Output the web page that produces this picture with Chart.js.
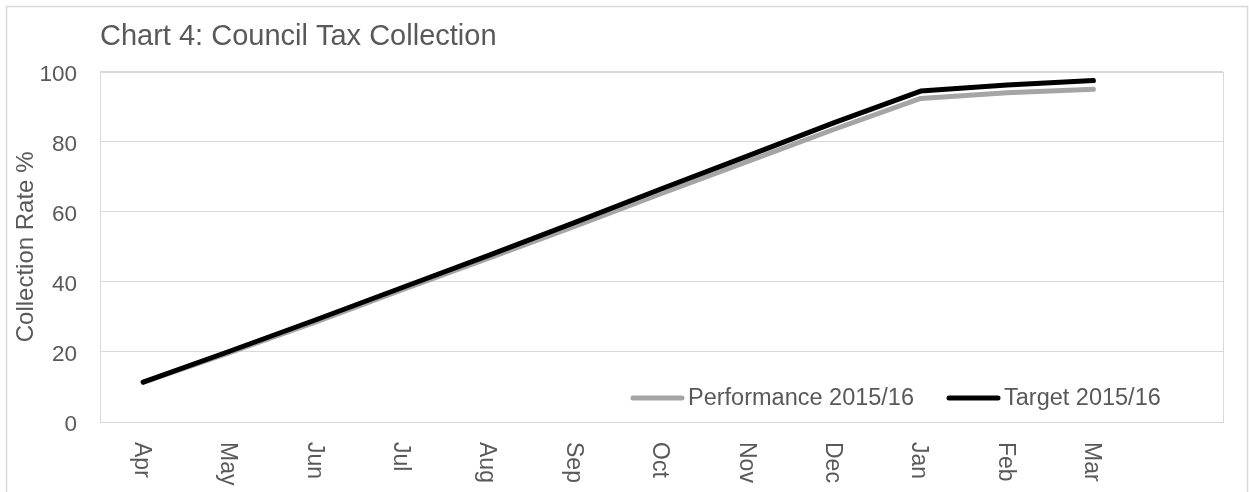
<!DOCTYPE html>
<html>
<head>
<meta charset="utf-8">
<script src="https://cdn.jsdelivr.net/npm/chart.js@4.4.1/dist/chart.umd.min.js"></script>
<style>
  html, body { margin: 0; padding: 0; background: #ffffff; }
  #wrap { position: relative; width: 1249px; height: 492px; }
</style>
</head>
<body>
<div id="wrap"><canvas id="taxChart" width="1249" height="492"></canvas></div>
<script>
// Chart data
const months = ['Apr', 'May', 'Jun', 'Jul', 'Aug', 'Sep', 'Oct', 'Nov', 'Dec', 'Jan', 'Feb', 'Mar', ''];
const performance = [11.3, 19.8, 28.6, 37.8, 46.8, 55.9, 65.3, 74.4, 83.6, 92.4, 94.0, 95.0];
const target = [11.4, 20.2, 29.2, 38.4, 47.6, 57.0, 66.6, 76.0, 85.5, 94.5, 96.2, 97.5];
const yTicks = [0, 20, 40, 60, 80, 100];

const FONT = '"Liberation Sans", Arial, sans-serif';
const TEXT = '#595959';
const GRID = '#d9d9d9';

// outer frame + plot area border
const framePlugin = {
  id: 'frame',
  beforeDraw(chart) {
    const ctx = chart.ctx;
    ctx.save();
    ctx.strokeStyle = GRID;
    ctx.lineWidth = 1.5;
    ctx.strokeRect(6.5, 6.5, 1241, 600);
    ctx.restore();
  },
  beforeDatasetsDraw(chart) {
    const a = chart.chartArea;
    const ctx = chart.ctx;
    ctx.save();
    ctx.strokeStyle = GRID;
    ctx.lineWidth = 1;
    ctx.strokeRect(Math.round(a.left) + 0.5, Math.round(a.top) + 0.5, Math.round(a.right - a.left), Math.round(a.bottom - a.top));
    ctx.restore();
  }
};

// month labels read top-to-bottom (rotated clockwise), chart.js rotates the other way
const monthLabelPlugin = {
  id: 'monthLabels',
  afterDraw(chart) {
    const xs = chart.scales.x;
    const ctx = chart.ctx;
    ctx.save();
    ctx.font = '23px ' + FONT;
    ctx.fillStyle = TEXT;
    months.forEach((m, i) => {
      if (!m) return;
      const x = xs.getPixelForValue(i);
      ctx.save();
      ctx.translate(x - 2, chart.chartArea.bottom + 20);
      ctx.rotate(Math.PI / 2);
      ctx.textAlign = 'left';
      ctx.textBaseline = 'middle';
      ctx.fillText(m, 0, 0);
      ctx.restore();
    });
    ctx.restore();
  }
};

// legend sits inside the plot, bottom right
const insideLegend = {
  id: 'insideLegend',
  afterDraw(chart) {
    const ctx = chart.ctx;
    const y = chart.chartArea.bottom - 24;
    let x = 631;
    ctx.save();
    ctx.font = '23.5px ' + FONT;
    ctx.textBaseline = 'middle';
    ctx.textAlign = 'left';
    chart.data.datasets.forEach(ds => {
      ctx.strokeStyle = ds.borderColor;
      ctx.lineWidth = 5;
      ctx.lineCap = 'round';
      ctx.beginPath();
      ctx.moveTo(x + 2, y);
      ctx.lineTo(x + 51, y);
      ctx.stroke();
      ctx.fillStyle = TEXT;
      ctx.fillText(ds.label, x + 57, y + 1);
      x += 57 + ctx.measureText(ds.label).width + 33;
    });
    ctx.restore();
  }
};

new Chart(document.getElementById('taxChart').getContext('2d'), {
  type: 'line',
  data: {
    labels: months,
    datasets: [
      {
        label: 'Performance 2015/16',
        data: performance,
        borderColor: '#a5a5a5',
        borderWidth: 5,
        borderCapStyle: 'round',
        borderJoinStyle: 'round',
        pointRadius: 0,
        tension: 0,
        fill: false,
        order: 2
      },
      {
        label: 'Target 2015/16',
        data: target,
        borderColor: '#000000',
        borderWidth: 5,
        borderCapStyle: 'round',
        borderJoinStyle: 'round',
        pointRadius: 0,
        tension: 0,
        fill: false,
        order: 1
      }
    ]
  },
  options: {
    responsive: false,
    animation: false,
    layout: { padding: { left: 8, right: 26, top: 0, bottom: 0 } },
    plugins: {
      legend: { display: false },
      tooltip: { enabled: false },
      title: {
        display: true,
        text: 'Chart 4: Council Tax Collection',
        align: 'start',
        fullSize: false,
        color: TEXT,
        font: { family: FONT, size: 29, weight: 'normal' },
        padding: { top: 20, bottom: 17 }
      }
    },
    scales: {
      x: {
        type: 'category',
        offset: true,
        grid: { display: false },
        border: { display: false },
        ticks: { display: false },
        afterFit(s) { s.height = 70; }
      },
      y: {
        min: 0,
        max: 100,
        afterBuildTicks(s) { s.ticks = yTicks.map(v => ({ value: v })); },
        grid: { color: GRID, lineWidth: 1, drawTicks: false },
        border: { display: false },
        ticks: {
          color: TEXT,
          font: { family: FONT, size: 22.5 },
          padding: 23,
          labelOffset: 3
        },
        title: {
          display: true,
          text: 'Collection Rate %',
          color: TEXT,
          font: { family: FONT, size: 24 },
          padding: { top: 4, bottom: 0 }
        },
        afterFit(s) { s.width = 92; }
      }
    }
  },
  plugins: [framePlugin, monthLabelPlugin, insideLegend]
});
</script>
</body>
</html>
